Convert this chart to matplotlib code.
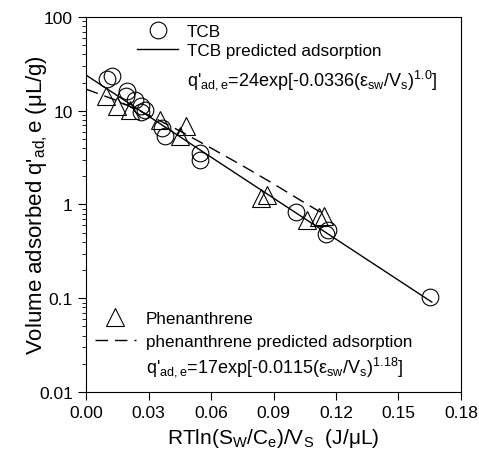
import matplotlib.pyplot as plt
from matplotlib.lines import Line2D

plt.rcParams["font.family"] = ["Liberation Sans", "DejaVu Sans"]
plt.rcParams["mathtext.fontset"] = "custom"
plt.rcParams["mathtext.rm"] = "Liberation Sans"
plt.rcParams["mathtext.it"] = "Liberation Sans"
plt.rcParams["mathtext.bf"] = "Liberation Sans:bold"

# TCB measured points
tcb_x = [0.0103, 0.0127, 0.0199, 0.019, 0.0233, 0.0262, 0.0281, 0.0262,
         0.0367, 0.0377, 0.0545, 0.0545, 0.101, 0.1154, 0.116, 0.165]
tcb_y = [22.0, 23.2, 16.4, 14.5, 12.9, 11.1, 10.1, 9.8,
         6.5, 5.4, 3.5, 2.95, 0.84, 0.49, 0.53, 0.104]

# phenanthrene measured points
phe_x = [0.0094, 0.015, 0.021, 0.0353, 0.0449, 0.048, 0.084, 0.087,
         0.106, 0.112, 0.114]
phe_y = [14.2, 11.1, 10.1, 7.9, 5.4, 6.8, 1.16, 1.25, 0.69, 0.74, 0.76]

# predicted curves
tcb_fit_x = [0.0, 0.166]
tcb_fit_y = [24.0, 0.091]
phe_fit_x = [0.0, 0.015, 0.03, 0.045, 0.06, 0.075, 0.09, 0.105, 0.115]
phe_fit_y = [17.0, 12.8, 9.0, 6.1, 4.0, 2.6, 1.66, 1.04, 0.77]

fig = plt.figure(figsize=(4.79, 4.6), dpi=100)
ax = fig.add_axes([0.1796, 0.1457, 0.7828, 0.8152])

mk = dict(markerfacecolor="none", markeredgecolor="black",
          markeredgewidth=0.8, markersize=12, linestyle="none")
ax.plot(tcb_x, tcb_y, marker="o", **mk)
ax.plot(phe_x, phe_y, marker="^", **dict(mk, markersize=12.5))
ax.plot(tcb_fit_x, tcb_fit_y, color="black", lw=1.0)
ax.plot(phe_fit_x, phe_fit_y, color="black", lw=1.0, dashes=(9, 5))

ax.set_yscale("log")
ax.set_xlim(0, 0.18)
ax.set_ylim(0.01, 100)
ax.set_xticks([0.00, 0.03, 0.06, 0.09, 0.12, 0.15, 0.18])
ax.set_xticklabels(["0.00", "0.03", "0.06", "0.09", "0.12", "0.15", "0.18"])
ax.set_yticks([0.01, 0.1, 1, 10, 100])
ax.set_yticklabels(["0.01", "0.1", "1", "10", "100"])
ax.tick_params(which="major", direction="out", length=6, width=0.8, labelsize=12.5)
ax.tick_params(which="minor", direction="out", length=3, width=0.6)
for s in ax.spines.values():
    s.set_linewidth(0.8)

ax.set_xlabel("RTln(S$_W$/C$_e$)/V$_S$  (J/μL)", fontsize=15)
ax.set_ylabel("Volume adsorbed q'$_{ad,}$e (μL/g)", fontsize=16, labelpad=-8)

h1 = [Line2D([], [], marker="o", **mk),
      Line2D([], [], color="black", lw=1.0)]
leg1 = ax.legend(h1, ["TCB", "TCB predicted adsorption"], loc="upper left",
                 bbox_to_anchor=(0.137, 0.982), frameon=False, fontsize=12.3,
                 handlelength=2.4, handletextpad=0.5, labelspacing=0.25,
                 borderpad=0, borderaxespad=0)
ax.add_artist(leg1)
ax.text(0.268, 0.835, "q'$_{ad,e}$=24exp[-0.0336(ε$_{sw}$/V$_s$)$^{1.0}$]",
        transform=ax.transAxes, fontsize=13, va="center")

h2 = [Line2D([], [], marker="^", **dict(mk, markersize=12.5)),
      Line2D([], [], color="black", lw=1.0, dashes=(9, 5))]
ax.legend(h2, ["Phenanthrene", "phenanthrene predicted adsorption"],
          loc="lower left", bbox_to_anchor=(0.023, 0.115), frameon=False,
          fontsize=12.3, handlelength=2.4, handletextpad=0.6, labelspacing=0.45,
          borderpad=0, borderaxespad=0)
ax.text(0.161, 0.068, "q'$_{ad,e}$=17exp[-0.0115(ε$_{sw}$/V$_s$)$^{1.18}$]",
        transform=ax.transAxes, fontsize=13, va="center")

fig.savefig("out.png", dpi=100)
